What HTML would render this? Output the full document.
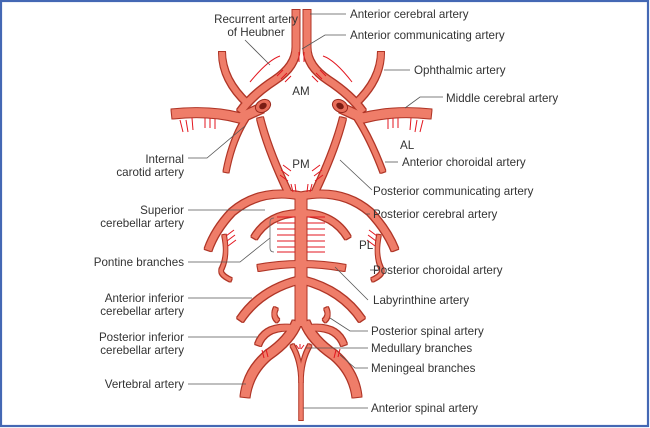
<!DOCTYPE html>
<html><head><meta charset="utf-8"><style>
html,body{margin:0;padding:0;background:#fff}
svg{display:block}
text{font-family:"Liberation Sans",sans-serif;font-size:11.6px;fill:#333}
</style></head><body>
<svg width="650" height="428" viewBox="0 0 650 428" xmlns="http://www.w3.org/2000/svg">
<rect x="1" y="1" width="647" height="425" fill="#fff" stroke="#4468b4" stroke-width="2.2"/>
<defs>
<filter id="ol" x="-10%" y="-10%" width="120%" height="120%">
<feMorphology in="SourceAlpha" operator="dilate" radius="0.9" result="d"/>
<feFlood flood-color="#b03526"/>
<feComposite in2="d" operator="in" result="o"/>
<feMerge><feMergeNode in="o"/><feMergeNode in="SourceGraphic"/></feMerge>
</filter>
</defs>
<g fill="none" stroke="#ef7d69" stroke-linejoin="round" filter="url(#ol)">
<path d="M296 10 L296 48 Q296 66 275 80 Q252 95 240 112" stroke-width="7"/>
<path d="M307 10 L307 48 Q307 66 328 80 Q351 95 363 112" stroke-width="7"/>
<path d="M222 52 Q222 80 248 104" stroke-width="6"/>
<path d="M381 52 Q381 80 355 104" stroke-width="6"/>
<path d="M172 114 Q210 110 240 118 L262 108" stroke-width="9"/>
<path d="M431 114 Q393 110 363 118 L341 108" stroke-width="9"/>
<path d="M246 118 Q232 140 226 172" stroke-width="5"/>
<path d="M357 118 Q371 140 383 172" stroke-width="5"/>
<path d="M260 118 Q268 150 288 192" stroke-width="6"/>
<path d="M343 118 Q335 150 315 192" stroke-width="6"/>
<path d="M301 196 Q260 188 232 212 Q215 230 208 250" stroke-width="7"/>
<path d="M301 196 Q342 188 370 212 Q387 230 395 250" stroke-width="7"/>
<path d="M224 235 Q228 255 222 268 Q218 274 231 280" stroke-width="3.5"/>
<path d="M379 235 Q375 255 381 268 Q385 274 372 280" stroke-width="3.5"/>
<path d="M299 213 Q268 214 254 238" stroke-width="6"/>
<path d="M303 213 Q334 214 348 238" stroke-width="6"/>
<path d="M258 268 Q301 260 345 268" stroke-width="6"/>
<path d="M299 280 Q260 290 240 320" stroke-width="7"/>
<path d="M303 280 Q342 290 362 320" stroke-width="7"/>
<path d="M293 328 Q265 325 258 345" stroke-width="6"/>
<path d="M309 328 Q337 325 344 345" stroke-width="6"/>
<path d="M278 321 Q272 316 276 308" stroke-width="4"/>
<path d="M324 321 Q330 316 326 308" stroke-width="4"/>
<path d="M297 322 Q290 340 268 355 Q248 372 245 397" stroke-width="9"/>
<path d="M305 322 Q312 340 334 355 Q354 372 357 397" stroke-width="9"/>
<path d="M292 345 Q301 360 301 382 L301 420" stroke-width="3.5"/>
<path d="M310 345 Q301 360 301 382" stroke-width="3.5"/>
<path d="M301 194 L301 326" stroke-width="11"/>
</g>
<ellipse cx="263" cy="106" rx="8" ry="6" fill="#e86e5a" stroke="#9b2a1e" transform="rotate(-30 263 106)"/>
<ellipse cx="263" cy="106" rx="4" ry="3" fill="#7a1d14" transform="rotate(-30 263 106)"/>
<ellipse cx="340" cy="106" rx="8" ry="6" fill="#e86e5a" stroke="#9b2a1e" transform="rotate(30 340 106)"/>
<ellipse cx="340" cy="106" rx="4" ry="3" fill="#7a1d14" transform="rotate(30 340 106)"/>
<g stroke="#e3161f" stroke-width="1" fill="none">
<path d="M250 82 Q268 60 280 56 M352 82 Q335 60 323 56"/>
<path d="M299 52 v10 M304 52 v10"/>
<path d="M283 70 l-6 6 M287 73 l-6 6 M291 76 l-6 6 M320 70 l6 6 M316 73 l6 6 M312 76 l6 6"/>
<path d="M180 120 l3 12 M186 120 l2 12 M192 118 l1 12 M205 118 l0 10 M210 118 l0 10 M215 119 l0 10"/>
<path d="M423 120 l-3 12 M417 120 l-2 12 M411 118 l-1 12 M398 118 l0 10 M393 118 l0 10 M388 119 l0 10"/>
<path d="M283 165 l8 6 M281 170 l8 6 M280 175 l8 6 M320 165 l-8 6 M322 170 l-8 6 M323 175 l-8 6"/>
<path d="M291 184 l2 8 M295 184 l1 8 M308 184 l-1 8 M312 184 l-2 8"/>
<path d="M226 236 l8 -6 M227 241 l8 -6 M228 246 l8 -6 M377 236 l-8 -6 M376 241 l-8 -6 M375 246 l-8 -6"/>
<path d="M277 217 h18 M277 223 h18 M277 229 h18 M277 235 h18 M277 241 h18 M277 247 h18 M277 252 h18"/>
<path d="M307 217 h18 M307 223 h18 M307 229 h18 M307 235 h18 M307 241 h18 M307 247 h18 M307 252 h18"/>
<path d="M262 350 l2 8 M266 349 l2 8 M336 350 l-2 8 M340 349 l-2 8"/>
<path d="M296 345 l3 4 M300 344 v5 M304 345 l-3 4"/>
</g>
<path d="M274 218 Q270 218 270 222 L270 248 Q270 252 274 252" stroke="#666" fill="none" stroke-width="0.8"/>
<g stroke="#555" stroke-width="0.8" fill="none">
<path d="M245 40 L270 65"/>
<path d="M188 158 L207 158 L245 126"/>
<path d="M188 210 L265 210"/>
<path d="M188 262 L240 262 L270 238"/>
<path d="M188 298 L252 298"/>
<path d="M188 337 L258 337"/>
<path d="M188 384 L246 384"/>
<path d="M310 14 L346 14"/>
<path d="M302 49 L325 35 L346 35"/>
<path d="M384 70 L410 70"/>
<path d="M405 108 L420 97 L443 97"/>
<path d="M385 162 L398 162"/>
<path d="M340 160 L372 190"/>
<path d="M366 214 L370 214"/>
<path d="M378 270 L370 270"/>
<path d="M335 267 L368 300"/>
<path d="M330 318 L350 331 L368 331"/>
<path d="M306 348 L368 348"/>
<path d="M340 355 L355 368 L368 368"/>
<path d="M303 408 L368 408"/>
</g>
<g text-anchor="end">
<text x="256" y="23" text-anchor="middle">Recurrent artery</text>
<text x="256" y="36" text-anchor="middle">of Heubner</text>
<text x="184" y="163">Internal</text>
<text x="184" y="176">carotid artery</text>
<text x="184" y="214">Superior</text>
<text x="184" y="227">cerebellar artery</text>
<text x="184" y="266">Pontine branches</text>
<text x="184" y="302">Anterior inferior</text>
<text x="184" y="315">cerebellar artery</text>
<text x="184" y="341">Posterior inferior</text>
<text x="184" y="354">cerebellar artery</text>
<text x="184" y="388">Vertebral artery</text>
</g>
<text x="350" y="18">Anterior cerebral artery</text>
<text x="350" y="39">Anterior communicating artery</text>
<text x="414" y="74">Ophthalmic artery</text>
<text x="446" y="102">Middle cerebral artery</text>
<text x="400" y="149">AL</text>
<text x="402" y="166">Anterior choroidal artery</text>
<text x="373" y="195">Posterior communicating artery</text>
<text x="373" y="218">Posterior cerebral artery</text>
<text x="359" y="249">PL</text>
<text x="373" y="274">Posterior choroidal artery</text>
<text x="373" y="304">Labyrinthine artery</text>
<text x="371" y="335">Posterior spinal artery</text>
<text x="371" y="352">Medullary branches</text>
<text x="371" y="372">Meningeal branches</text>
<text x="371" y="412">Anterior spinal artery</text>
<text x="301" y="95" text-anchor="middle">AM</text>
<text x="301" y="168" text-anchor="middle">PM</text>
</svg>
</body></html>
